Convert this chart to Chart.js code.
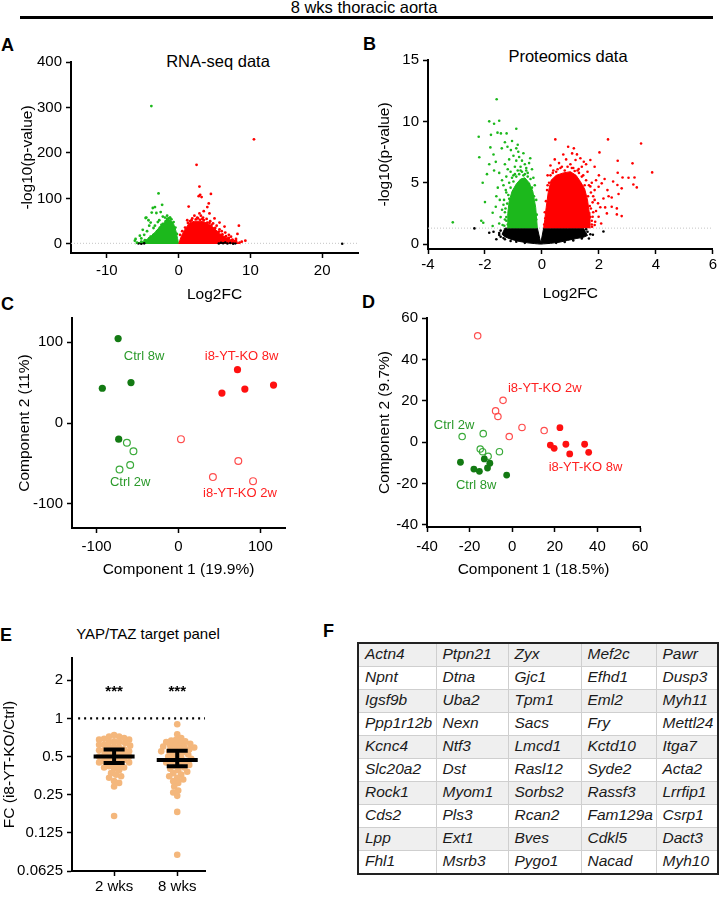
<!DOCTYPE html>
<html>
<head>
<meta charset="utf-8">
<title>8 wks thoracic aorta</title>
<script src="https://cdn.jsdelivr.net/npm/chart.js@4.4.1/dist/chart.umd.min.js"></script>
<style>
  html, body { margin: 0; padding: 0; background: #fff; }
  body { position: relative; width: 719px; height: 898px; overflow: hidden;
         font-family: "Liberation Sans", Arial, sans-serif; color: #000; }
  canvas { position: absolute; }
  .letter { position: absolute; font-size: 18px; font-weight: bold; line-height: 1; }
  .ttl { position: absolute; line-height: 1; white-space: nowrap; transform: translateX(-50%); }
  #rule { position: absolute; left: 20px; top: 16px; width: 693px; height: 3px; background: #000; }
  #genes { position: absolute; left: 357px; top: 642px; width: 360px; border-collapse: collapse;
           border: 2px solid #222; table-layout: fixed; }
  #genes td { height: 22px; padding: 0 0 0 6px; line-height: 19px; vertical-align: top;
              font-style: italic; font-size: 15.5px; color: #1a1a1a; border: 1px solid #cfcfcf;
              white-space: nowrap; overflow: hidden; }
  #genes tr:nth-child(odd) td { background: #efefef; }
</style>
</head>
<body>

<div class="ttl" style="left:364px; top:-1px; font-size:16.5px;">8 wks thoracic aorta</div>
<div id="rule"></div>

<div class="letter" style="left:1px; top:36px;">A</div>
<div class="letter" style="left:363px; top:35px;">B</div>
<div class="letter" style="left:1px; top:295px;">C</div>
<div class="letter" style="left:362px; top:293px;">D</div>
<div class="letter" style="left:0px; top:626px;">E</div>
<div class="letter" style="left:323px; top:622px;">F</div>

<div class="ttl" style="left:218px; top:53px; font-size:16.5px;">RNA-seq data</div>
<div class="ttl" style="left:568px; top:48px; font-size:16.5px;">Proteomics data</div>
<div class="ttl" style="left:148px; top:626px; font-size:15px;">YAP/TAZ target panel</div>

<table id="genes">
  <colgroup><col style="width:78px"><col style="width:72px"><col style="width:73px"><col style="width:75px"><col style="width:62px"></colgroup>
  <tbody></tbody>
</table>

<script>
// ===========================
// DATA
// ===========================

// --- A: RNA-seq volcano (Log2FC, -log10 p) ---
const rnaXTicks = [-10, 0, 10, 20];
const rnaYTicks = [0, 100, 200, 300, 400];
// dense cores (upper outline of the solid point clouds)
const rnaDownEnvX = [-6.0, -5.7, -5.0, -4.4, -3.8, -3.2, -2.6, -2.0, -1.5, -1.1, -0.7, -0.4, -0.15, 0.0];
const rnaDownEnvY = [0, 2, 5, 10, 18, 27, 38, 47, 54, 52, 44, 30, 12, 0];
const rnaUpEnvX = [0.02, 0.3, 0.8, 1.5, 2.2, 3.0, 3.6, 4.2, 4.7, 5.2, 5.7, 6.2, 6.6, 7.1, 7.5, 8.2, 8.6];
const rnaUpEnvY = [0, 14, 30, 46, 50, 50, 48, 43, 38, 31, 23, 18, 14, 10, 7, 3, 0];
// scattered genes outside / on the rim of the cores
const rnaDownPts = [[-3.8,303],[-2.8,111],[-2.3,86],[-3.3,81],[-3.6,79],[-3.75,69],[-3.1,68],[-2.5,70],
  [-4.5,58],[-4.6,57],[-4.2,52],[-3.9,47],[-2.2,60],[-4.1,40],[-5.0,31],[-5.4,18],[-6.1,7],[-6.0,11],
  [-3.5,35],[-4.4,28],[-1.9,58],[-1.6,62],[-2.9,48],[-5.2,12],[-4.8,20],[-3.3,40],[-2.7,52],[-1.2,58],
  [-5.8,3],[-5.2,5],[-4.7,8],[-4.1,12],[-3.5,20],[-3.0,28],[-2.6,36],[-2.2,44],[-1.8,50],[-1.4,56],
  [-1.0,54],[-0.7,48],[-0.45,36],[-0.25,22],[-3.9,16],[-2.4,42],[-1.6,55],[-1.2,57]];
const rnaUpPts = [[10.5,230],[2.5,174],[2.9,126],[3.0,108],[3.2,103],[2.8,105],[4.5,110],[1.4,82],
  [4.2,89],[4.0,81],[2.9,67],[4.3,67],[5.7,47],[6.4,38],[8.4,40],[8.2,22],[9.3,7],[7.5,9],[5.7,32],
  [5.0,56],[3.5,72],[2.2,62],[3.4,58],[4.8,45],[6.0,28],[7.0,20],[6.9,12],[8.0,11],[7.8,6],[6.5,25],
  [1.9,56],[2.6,58],[3.9,55],[4.4,50],[5.3,40],[1.2,52],[3.1,62],[7.3,16],[8.8,5],
  [0.2,20],[0.5,28],[0.9,36],[1.3,46],[1.8,52],[2.4,54],[3.0,53],[3.5,52],[4.0,47],[4.6,42],
  [5.1,35],[5.6,27],[6.1,21],[6.6,17],[7.0,13],[7.5,9],[8.0,6],[8.5,3],[2.7,56],[3.3,55],[1.6,50],[4.3,46]];
const rnaNsPts = [[22.8,0.5],[-5.2,0.5],[5.6,1.0],[6.2,1.5],[6.8,0.8],[7.2,2.0],[7.6,0.6],[5.9,2.5],
  [6.5,3.0],[-4.8,1.2],[-5.6,0.8],[7.9,1.2]];

// --- B: proteomics volcano ---
const protXTicks = [-4, -2, 0, 2, 4, 6];
const protYTicks = [0, 5, 10, 15];
const pThreshold = 1.3;
const protDownEnvX = [-1.22, -1.2, -1.15, -1.05, -0.9, -0.75, -0.6, -0.45, -0.32, -0.22, -0.16];
const protDownEnvY = [1.3, 2.5, 3.5, 4.3, 4.9, 5.3, 5.4, 5.0, 4.3, 3.0, 1.3];
const protUpEnvX = [0.06, 0.1, 0.15, 0.22, 0.32, 0.5, 0.75, 1.0, 1.2, 1.35, 1.5, 1.6, 1.66, 1.68];
const protUpEnvY = [1.3, 2.0, 3.0, 4.2, 5.2, 5.6, 5.8, 5.9, 5.6, 5.1, 4.5, 3.6, 2.6, 1.3];
const protNsEnvX = [-1.4, -1.3, -1.1, -0.8, -0.5, -0.25, -0.16, -0.04, 0.06, 0.3, 0.6, 0.9, 1.2, 1.45, 1.6];
const protNsTopY = [0.8, 1.3, 1.3, 1.3, 1.3, 1.3, 1.3, 0.08, 1.3, 1.3, 1.3, 1.3, 1.3, 1.3, 0.7];
const protNsLowY = [0.8, 0.6, 0.4, 0.22, 0.1, 0.04, 0.02, 0.0, 0.02, 0.06, 0.15, 0.3, 0.45, 0.55, 0.7];
const protDownPts = [[-1.59,11.8],[-2.22,8.75],[-1.85,10.0],[-1.68,9.8],[-1.5,10.05],[-1.79,8.9],
  [-1.56,9.08],[-1.44,9.02],[-1.24,9.02],[-0.9,9.4],[-2.2,7.07],[-1.81,7.88],[-1.41,7.8],[-1.21,7.93],
  [-1.09,7.66],[-0.9,7.8],[-0.83,7.53],[-0.41,7.0],[-1.93,5.7],[-2.08,5.0],[-1.62,6.7],[-1.68,6.0],
  [-1.5,5.8],[-2.0,3.42],[-1.73,2.55],[-2.13,1.9],[-2.06,1.74],[-1.73,1.47],[-1.5,1.68],[-1.38,1.55],
  [-1.48,3.6],[-1.62,3.04],[-1.27,4.4],[-1.33,3.6],[-3.13,1.77],[-1.3,6.5],[-1.15,6.9],[-1.0,7.2],
  [-0.7,6.8],[-0.55,6.2],[-0.95,6.3],[-1.1,5.9],[-1.4,5.2],[-1.55,4.6],[-1.6,3.9],[-1.4,2.8],
  [-1.45,2.2],[-1.3,2.0],[-1.35,3.2],[-1.25,5.5],[-0.35,6.1],[-0.3,5.4],[-0.8,7.1],[-0.65,7.4],
  [-1.05,8.4],[-0.85,8.1],[-1.3,8.3],[-1.7,7.3],[-1.85,6.5],[-0.5,5.8],[-1.2,6.1],[-0.6,6.5],
  [-0.25,4.8],[-0.45,6.6],[-0.75,6.0],[-1.0,5.6],[-0.9,6.8],[-1.15,5.0],[-1.28,2.9],[-1.25,1.9],
  [-1.25,2.2],[-1.3,2.6],[-1.22,3.3],[-1.18,4.0],[-1.1,4.6],[-1.0,5.1],[-0.9,5.5],[-0.8,5.7],
  [-0.7,5.9],[-0.6,5.7],[-0.5,5.5],[-0.4,5.3],[-0.35,4.6],[-0.28,3.9],[-0.2,3.6],[-0.18,2.4],
  [-1.32,1.5],[-1.2,1.6],[-1.05,5.4],[-0.85,6.0],[-0.55,6.0],[-0.45,4.9],[-0.2,2.0],[-1.15,3.7],
  [-0.95,5.7],[-0.65,5.6],[-0.75,6.3],[-1.25,4.2],[-1.35,4.8],[-0.3,3.2]];
const protUpPts = [[2.32,8.53],[3.48,8.2],[0.92,7.93],[1.12,7.8],[1.23,7.31],[1.06,7.39],[1.18,6.85],
  [1.47,6.71],[1.7,6.85],[1.29,6.11],[1.85,6.3],[2.02,7.47],[2.66,6.79],[3.18,6.58],[3.87,5.84],
  [2.66,5.81],[2.83,5.43],[3.04,5.4],[3.25,5.43],[3.21,4.86],[3.33,4.62],[2.65,4.81],[2.8,4.54],
  [2.1,4.95],[1.99,4.67],[1.85,4.4],[2.34,3.9],[2.16,3.72],[2.45,3.8],[2.69,4.08],[1.97,3.32],
  [2.45,3.04],[2.63,2.91],[2.22,2.99],[1.78,2.23],[1.99,2.23],[1.87,1.82],[2.08,1.68],[2.28,2.5],
  [2.63,2.42],[2.8,2.28],[1.76,1.41],[1.85,1.55],[0.47,8.53],[0.3,6.4],[0.6,6.6],[0.85,6.9],
  [1.0,6.5],[0.45,6.9],[1.4,6.3],[1.6,5.9],[1.9,5.2],[2.0,5.6],[1.75,5.0],[1.85,3.6],[2.05,3.0],
  [1.9,2.7],[1.8,3.9],[2.3,4.4],[2.5,5.1],[1.55,6.5],[0.75,7.3],[1.35,7.0],[0.2,5.6],[0.65,6.2],
  [1.1,6.2],[1.7,4.7],[1.72,2.9],[1.75,1.9],[1.45,5.6],[2.2,5.3],
  [0.1,2.6],[0.14,3.5],[0.18,4.4],[0.25,5.0],[0.3,5.6],[0.4,6.0],[0.55,6.1],[0.7,6.3],[0.9,6.3],
  [1.05,6.2],[1.25,6.0],[1.4,5.5],[1.55,5.2],[1.65,4.8],[1.72,4.2],[1.78,3.4],[1.8,2.6],[1.75,1.6],
  [0.08,1.6],[0.12,2.1],[0.38,5.8],[0.8,6.0],[1.15,5.95],[1.5,4.8],[1.62,3.9],[1.68,3.1],[1.7,2.2],
  [0.2,4.8],[0.5,5.9],[1.3,5.8]];
const protNsPts = [[-2.37,1.28],[-1.85,0.92],[1.79,0.76],[2.16,1.03],[1.52,0.82],[1.32,1.0],
  [-1.5,0.75],[-1.6,0.4],[1.65,0.45],[-1.35,0.5],[1.45,1.15],[-1.45,1.1],[1.6,1.0],[-1.7,1.0],
  [-1.45,0.6],[-1.3,0.4],[-1.1,0.25],[-0.9,0.2],[-0.6,0.1],[1.4,0.45],[1.1,0.3],[0.8,0.18],
  [0.5,0.1],[-1.5,0.9],[1.7,0.8],[1.55,1.2]];

// --- C: PCA, RNA-seq ---
const pcaCTicks = [-100, 0, 100];
const ctrl8C = [[-73.7,104.5],[-93,43],[-58,50],[-73,-20]];
const ctrl2C = [[-63,-24.5],[-55,-35],[-59,-52],[-72,-57.5]];
const ko8C = [[72,66],[53,37],[81,42],[116,47]];
const ko2C = [[3,-20],[73,-47],[42,-67],[91,-72]];

// --- D: PCA, proteomics ---
const pcaDTicks = [-40, -20, 0, 20, 40, 60];
const ko2D = [[-16.2,51.4],[-4.3,20.2],[-7.8,15.1],[-6.7,12.4],[4.6,7.1],[-1.4,2.7],[15,5.6]];
const ctrl2D = [[-23.5,2.7],[-13.6,4.1],[-15,-3.3],[-13.9,-4.6],[-11.3,-6.8],[-6,-4.6]];
const ctrl8D = [[-24.3,-9.7],[-18,-13],[-15.4,-14.1],[-13.1,-8.1],[-10.5,-10.2],[-11.6,-12.5],[-2.6,-15.9]];
const ko8D = [[22.4,7],[17.9,-1.4],[19.7,-3],[25.2,-1],[27,-5.7],[34,-1],[35.9,-4.9]];

// --- E: YAP/TAZ target panel, fold change ---
const panelGroups = ['2 wks', '8 wks'];
const fcYTicks = [0.0625, 0.125, 0.25, 0.5, 1, 2];
const fc2wk = [0.74,0.72,0.72,0.70,0.69,0.68,0.68,0.66,0.65,0.65,0.64,0.62,0.62,0.61,0.60,0.59,0.59,
  0.57,0.56,0.56,0.55,0.54,0.53,0.53,0.52,0.51,0.50,0.50,0.49,0.48,0.47,0.47,0.46,0.45,0.45,0.44,
  0.43,0.42,0.41,0.41,0.40,0.39,0.37,0.36,0.35,0.34,0.32,0.31,0.29,0.17];
const fc8wk = [0.90,0.75,0.70,0.68,0.67,0.66,0.65,0.64,0.63,0.62,0.61,0.60,0.60,0.59,0.58,0.57,0.56,
  0.55,0.55,0.54,0.53,0.52,0.51,0.50,0.49,0.48,0.47,0.46,0.46,0.45,0.44,0.43,0.42,0.41,0.40,0.39,
  0.38,0.37,0.36,0.35,0.34,0.33,0.32,0.31,0.29,0.27,0.26,0.245,0.183,0.084];
const fcMean = [0.50, 0.47];
const fcLow = [0.444, 0.419];
const fcHigh = [0.568, 0.556];

// --- F: target gene table ---
const genes = [
  ['Actn4','Ptpn21','Zyx','Mef2c','Pawr'],
  ['Npnt','Dtna','Gjc1','Efhd1','Dusp3'],
  ['Igsf9b','Uba2','Tpm1','Eml2','Myh11'],
  ['Ppp1r12b','Nexn','Sacs','Fry','Mettl24'],
  ['Kcnc4','Ntf3','Lmcd1','Kctd10','Itga7'],
  ['Slc20a2','Dst','Rasl12','Syde2','Acta2'],
  ['Rock1','Myom1','Sorbs2','Rassf3','Lrrfip1'],
  ['Cds2','Pls3','Rcan2','Fam129a','Csrp1'],
  ['Lpp','Ext1','Bves','Cdkl5','Dact3'],
  ['Fhl1','Msrb3','Pygo1','Nacad','Myh10']
];

// ===========================
// HELPERS
// ===========================
const FONT = '"Liberation Sans", Arial, sans-serif';
const GREEN = '#1cb81c', RED = '#ff0000';

function axis(o) {
  return {
    type: o.type || 'linear', position: o.pos, min: o.min, max: o.max,
    afterFit: s => { if (o.pos === 'left') s.width = o.size; else s.height = o.size; },
    afterBuildTicks: s => { s.ticks = o.ticks.map(v => ({ value: v })); },
    ticks: { color: '#000', font: { family: FONT, size: 15 }, padding: o.tickPad ?? 4,
             autoSkip: false, maxRotation: 0, callback: o.label || (v => String(v)) },
    grid: { drawOnChartArea: false, drawTicks: true, tickLength: 5, tickWidth: 1.5, tickColor: '#000' },
    border: { display: true, color: '#000', width: 2 },
    title: o.title
      ? { display: true, text: o.title, color: '#000', font: { family: FONT, size: 15.5 },
          padding: { top: o.titlePad || 0, bottom: 0 } }
      : { display: false }
  };
}

function dots(arr, color, r, extra) {
  return Object.assign({
    type: 'scatter', data: arr.map(([x, y]) => ({ x, y })),
    backgroundColor: color, borderColor: color, borderWidth: 0,
    pointRadius: r, pointHoverRadius: r, order: 1
  }, extra || {});
}

function band(xs, ys, color, fill, order) {
  return { type: 'line', data: xs.map((x, i) => ({ x, y: ys[i] })), borderColor: color,
           backgroundColor: color, borderWidth: 1, pointRadius: 0, tension: 0, fill, order };
}

function hline(x0, x1, y, color, dash, width, order) {
  return { type: 'line', data: [{ x: x0, y }, { x: x1, y }], borderColor: color, borderDash: dash,
           borderWidth: width, pointRadius: 0, fill: false, order };
}

// text labels placed in data coordinates
const dataText = {
  id: 'dataText',
  afterDatasetsDraw(chart, args, opts) {
    const { ctx, scales: { x, y } } = chart;
    (opts.items || []).forEach(t => {
      ctx.save();
      ctx.font = opts.font; ctx.fillStyle = t.color;
      ctx.textAlign = 'center'; ctx.textBaseline = 'middle';
      ctx.fillText(t.text, x.getPixelForValue(t.x), y.getPixelForValue(t.y));
      ctx.restore();
    });
  }
};

function makeChart(box, datasets, scales, plugins, pluginOpts) {
  const c = document.createElement('canvas');
  c.width = box.w; c.height = box.h;
  c.style.left = box.l + 'px'; c.style.top = box.t + 'px';
  document.body.appendChild(c);
  return new Chart(c, {
    type: 'scatter',
    data: { datasets },
    options: {
      responsive: false, animation: false, events: [],
      layout: { padding: box.pad },
      plugins: Object.assign({ legend: { display: false }, tooltip: { enabled: false } }, pluginOpts || {}),
      scales
    },
    plugins: plugins || []
  });
}

// ===========================
// A: RNA-seq volcano
// ===========================
makeChart({ l: 0, t: 45, w: 362, h: 259, pad: { top: 17, right: 4, left: 0, bottom: 0 } }, [
  dots(rnaUpPts, RED, 1.4),
  dots(rnaDownPts, GREEN, 1.4),
  dots(rnaNsPts, '#000', 1.3, { order: 3 }),
  band(rnaUpEnvX, rnaUpEnvY, RED, 'origin', 10),
  band(rnaDownEnvX, rnaDownEnvY, GREEN, 'origin', 10),
  hline(-15, 25, pThreshold, '#c4c4c4', [1, 2], 1, 30)
], {
  x: axis({ pos: 'bottom', min: -15, max: 25, ticks: rnaXTicks, size: 51, title: 'Log2FC', tickPad: 4 }),
  y: axis({ pos: 'left', min: -20, max: 400, ticks: rnaYTicks, size: 71, title: '-log10(p-value)', titlePad: 18.7 })
});

// ===========================
// B: proteomics volcano
// ===========================
makeChart({ l: 360, t: 45, w: 359, h: 258, pad: { top: 15, right: 5, left: 0, bottom: 0 } }, [
  dots(protUpPts, RED, 1.3),
  dots(protDownPts, GREEN, 1.3),
  dots(protNsPts, '#000', 1.3, { order: 3 }),
  band(protUpEnvX, protUpEnvY, RED, { value: pThreshold }, 10),
  band(protDownEnvX, protDownEnvY, GREEN, { value: pThreshold }, 10),
  band(protNsEnvX, protNsLowY, '#000', false, 20),
  band(protNsEnvX, protNsTopY, '#000', '-1', 20),
  hline(-4, 6, pThreshold, '#c4c4c4', [1, 2], 1, 30)
], {
  x: axis({ pos: 'bottom', min: -4, max: 6, ticks: protXTicks, size: 54, title: 'Log2FC', tickPad: 2 }),
  y: axis({ pos: 'left', min: -0.4, max: 15, ticks: protYTicks, size: 68, title: '-log10(p-value)', titlePad: 15.7 })
});

// ===========================
// C / D: PCA plots
// ===========================
const G_FILL = '#137a13', G_OPEN = '#3aaa3a', G_TEXT = '#2b9a2b';
const R_FILL = '#ff1010', R_OPEN = '#ff4d4d', R_TEXT = '#ff2020';
const openDot = (arr, color, r) => dots(arr, color, r, { backgroundColor: 'rgba(0,0,0,0)', borderWidth: 1.2 });

makeChart({ l: 0, t: 305, w: 300, h: 274, pad: { top: 8, right: 15, left: 0, bottom: 0 } }, [
  dots(ctrl8C, G_FILL, 3.6), openDot(ctrl2C, G_OPEN, 3.4),
  dots(ko8C, R_FILL, 3.6), openDot(ko2C, R_OPEN, 3.4)
], {
  x: axis({ pos: 'bottom', min: -130, max: 130, ticks: pcaCTicks, size: 51, title: 'Component 1 (19.9%)', tickPad: 4.5 }),
  y: axis({ pos: 'left', min: -130, max: 130, ticks: pcaCTicks, size: 72, title: 'Component 2 (11%)', titlePad: 15.7 })
}, [dataText], { dataText: { font: '13px ' + FONT, items: [
  { text: 'Ctrl 8w', x: -42, y: 82, color: G_TEXT },
  { text: 'i8-YT-KO 8w', x: 77, y: 83, color: R_TEXT },
  { text: 'Ctrl 2w', x: -59, y: -73.5, color: G_TEXT },
  { text: 'i8-YT-KO 2w', x: 75, y: -87.5, color: R_TEXT }
] } });

makeChart({ l: 360, t: 305, w: 359, h: 274, pad: { top: 9, right: 79, left: 0, bottom: 0 } }, [
  dots(ctrl8D, G_FILL, 3.4), openDot(ctrl2D, G_OPEN, 3.2),
  dots(ko8D, R_FILL, 3.4), openDot(ko2D, R_OPEN, 3.2)
], {
  x: axis({ pos: 'bottom', min: -40, max: 60, ticks: pcaDTicks, size: 52, title: 'Component 1 (18.5%)', tickPad: 5.5 }),
  y: axis({ pos: 'left', min: -41, max: 60, ticks: pcaDTicks, size: 67, title: 'Component 2 (9.7%)', titlePad: 15.2 })
}, [dataText], { dataText: { font: '13px ' + FONT, items: [
  { text: 'i8-YT-KO 2w', x: 15.3, y: 25.9, color: R_TEXT },
  { text: 'Ctrl 2w', x: -27.3, y: 8.1, color: G_TEXT },
  { text: 'i8-YT-KO 8w', x: 34.4, y: -12.1, color: R_TEXT },
  { text: 'Ctrl 8w', x: -16.9, y: -21.1, color: G_TEXT }
] } });

// ===========================
// E: fold-change scatter (log2 axis)
// ===========================
// spread points sideways so they do not pile up (simple beeswarm, pixel space)
const swarm = {
  id: 'swarm',
  afterUpdate(chart) {
    chart.data.datasets.forEach((ds, di) => {
      if (!ds.swarm) return;
      const els = chart.getDatasetMeta(di).data;
      const order = els.map((e, i) => i).sort((a, b) => els[a].y - els[b].y);
      const placed = [];
      const gap = 5, maxOff = 17;
      order.forEach(i => {
        const e = els[i], cx = e.x;
        let off = 0, bestOff = 0, bestD = -1;
        for (let k = 0; k <= maxOff * 2; k++) {
          const o = (k % 2 ? 1 : -1) * Math.ceil(k / 2);
          const d = placed.reduce((m, p) => Math.min(m, Math.hypot(p.x - (cx + o), p.y - e.y)), Infinity);
          if (d >= gap) { off = o; bestD = Infinity; break; }
          if (d > bestD) { bestD = d; bestOff = o; }
        }
        if (bestD !== Infinity) off = bestOff;
        e.x = cx + off;
        placed.push({ x: e.x, y: e.y });
      });
    });
  }
};

const meanBars = {
  id: 'meanBars',
  afterDatasetsDraw(chart) {
    const { ctx, scales: { x, y } } = chart;
    fcMean.forEach((m, i) => {
      const cx = x.getPixelForValue(i + 1);
      const ym = y.getPixelForValue(m), yl = y.getPixelForValue(fcLow[i]), yh = y.getPixelForValue(fcHigh[i]);
      ctx.save();
      ctx.strokeStyle = '#000'; ctx.lineWidth = 4;
      ctx.beginPath();
      ctx.moveTo(cx - 20.5, ym); ctx.lineTo(cx + 20.5, ym);
      ctx.moveTo(cx - 10.5, yl); ctx.lineTo(cx + 10.5, yl);
      ctx.moveTo(cx - 10.5, yh); ctx.lineTo(cx + 10.5, yh);
      ctx.moveTo(cx, yl); ctx.lineTo(cx, yh);
      ctx.stroke();
      ctx.restore();
    });
  }
};

const ORANGE = '#f4b77c';
makeChart({ l: 0, t: 645, w: 215, h: 253, pad: { top: 8, right: 10, left: 0, bottom: 0 } }, [
  dots(fc2wk.map(v => [1, v]), ORANGE, 3.3, { swarm: true }),
  dots(fc8wk.map(v => [2, v]), ORANGE, 3.3, { swarm: true }),
  hline(0.43, 2.44, 1, '#000', [2, 4], 2.2, 30)
], {
  x: axis({ pos: 'bottom', min: 0.333, max: 2.44, ticks: [1, 2], size: 27, tickPad: 1.5,
            label: (v, i) => panelGroups[i] }),
  y: axis({ type: 'logarithmic', pos: 'left', min: 0.0625, max: 3.0, ticks: fcYTicks, size: 72,
            title: 'FC (i8-YT-KO/Ctrl)', titlePad: 0, label: v => String(v) })
}, [swarm, meanBars, dataText], { dataText: { font: 'bold 15px ' + FONT, items: [
  { text: '***', x: 1, y: 1.62, color: '#000' },
  { text: '***', x: 2, y: 1.62, color: '#000' }
] } });

// ===========================
// F: gene table
// ===========================
document.querySelector('#genes tbody').innerHTML = genes
  .map(row => '<tr>' + row.map(g => `<td>${g}</td>`).join('') + '</tr>').join('');
</script>
</body>
</html>
